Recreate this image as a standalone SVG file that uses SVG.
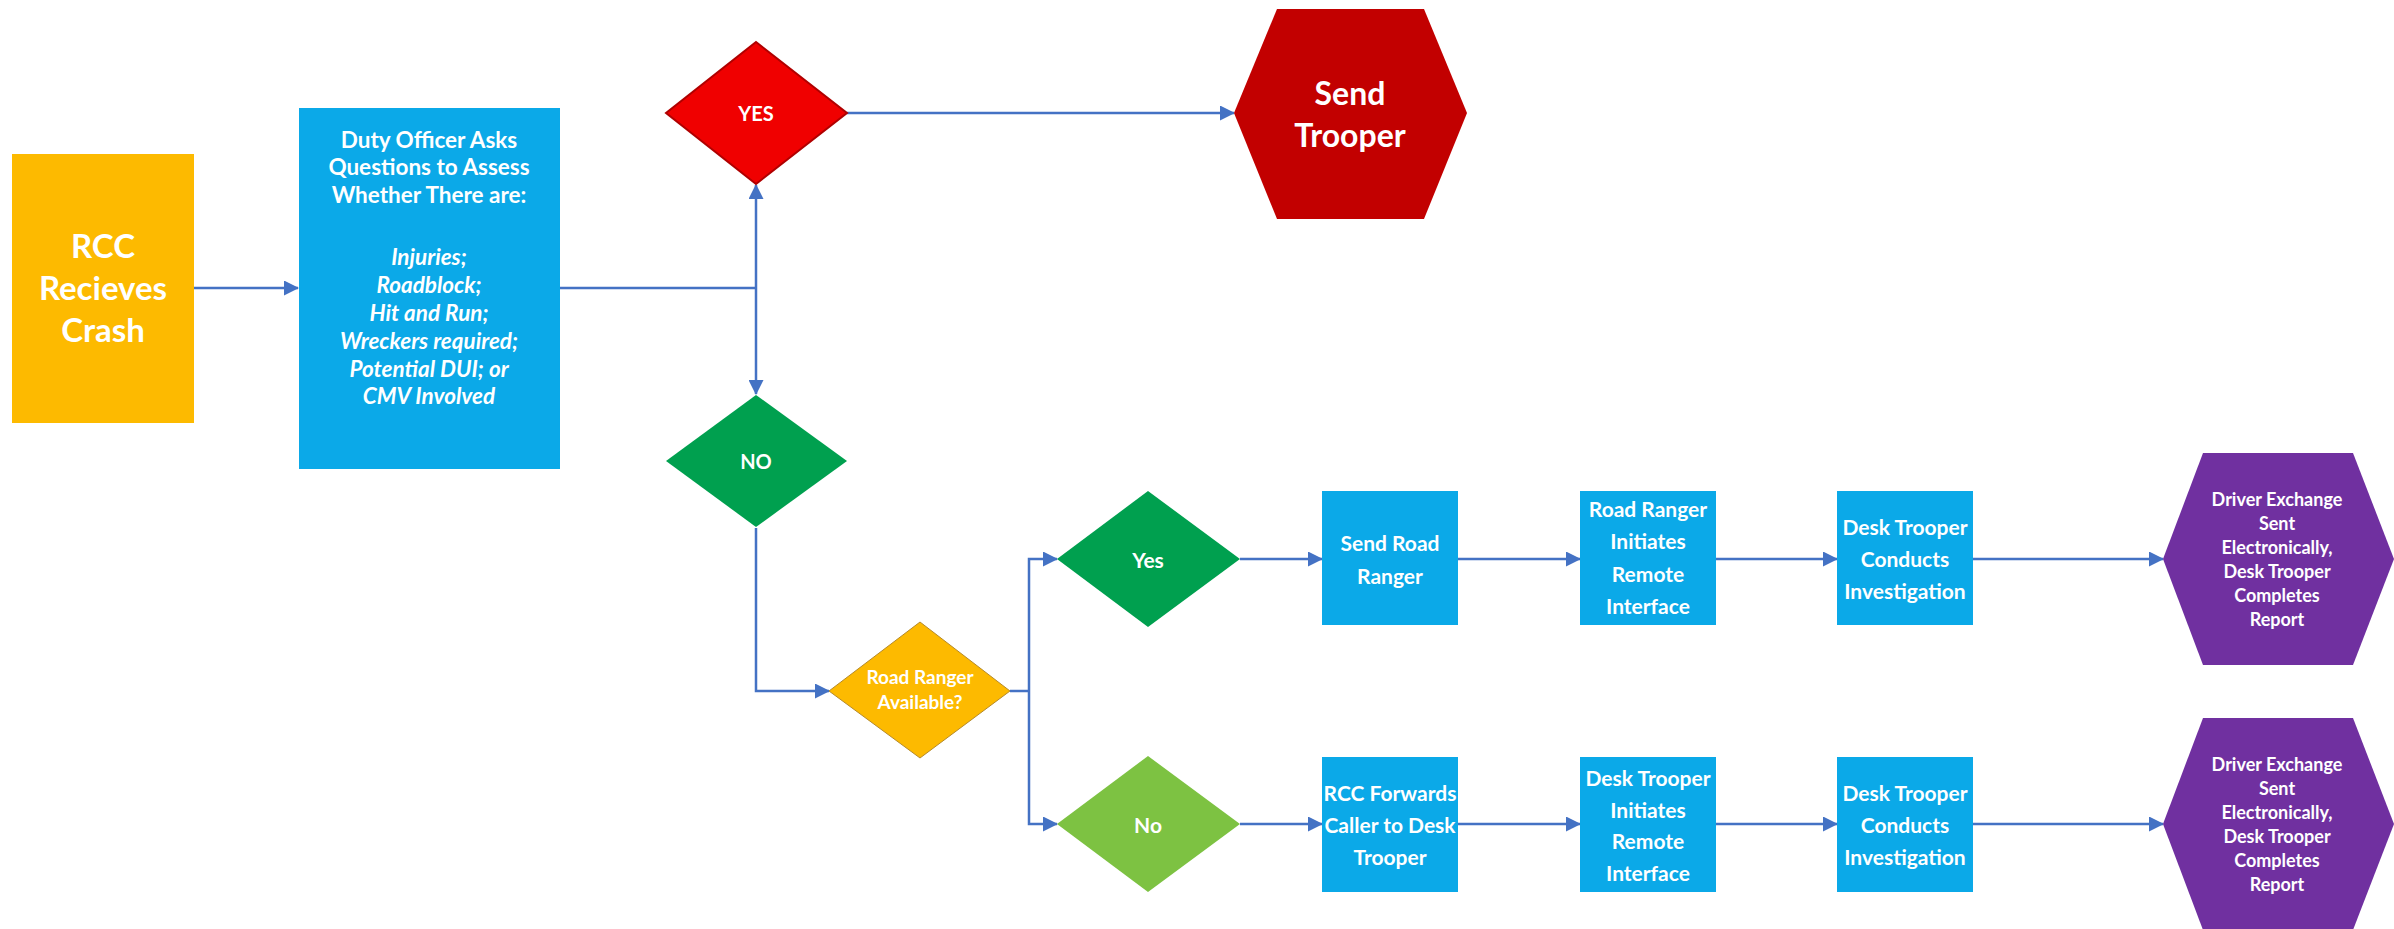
<svg xmlns="http://www.w3.org/2000/svg" width="2394" height="929" viewBox="0 0 2394 929">
  <defs>
    <marker id="arrow" markerWidth="15" markerHeight="15" refX="14" refY="7.5" orient="auto" markerUnits="userSpaceOnUse" viewBox="0 0 15 15">
      <path d="M0,0 L15,7.5 L0,15 Z" fill="#4472C4"/>
    </marker>
    <style>
      .lbl { font-family: Lato, "Open Sans", "Liberation Sans", sans-serif; font-weight: 700; fill: #ffffff; text-anchor: middle; dominant-baseline: central; }
      .it { font-style: italic; }
      .conn { fill: none; stroke: #4472C4; stroke-width: 2.5; }
      .arr { marker-end: url(#arrow); }
      .blue { fill: #0BA9E8; }
    </style>
  </defs>
  <rect width="2394" height="929" fill="#ffffff"/>

  <!-- connectors -->
  <g id="connectors">
    <path class="conn arr" d="M194,288 H298"/>
    <path class="conn" d="M560,288 H756"/>
    <path class="conn arr" d="M756,288 V185"/>
    <path class="conn arr" d="M756,288 V394"/>
    <path class="conn arr" d="M847,113 H1234"/>
    <path class="conn arr" d="M756,528 V691 H829"/>
    <path class="conn" d="M1010,691 H1029"/>
    <path class="conn arr" d="M1029,691 V559 H1057"/>
    <path class="conn arr" d="M1029,691 V824 H1057"/>
    <path class="conn arr" d="M1240,559 H1322"/>
    <path class="conn arr" d="M1458,559 H1580"/>
    <path class="conn arr" d="M1716,559 H1837"/>
    <path class="conn arr" d="M1973,559 H2163"/>
    <path class="conn arr" d="M1240,824 H1322"/>
    <path class="conn arr" d="M1458,824 H1580"/>
    <path class="conn arr" d="M1716,824 H1837"/>
    <path class="conn arr" d="M1973,824 H2163"/>
  </g>

  <!-- start -->
  <g id="rcc-receives-crash">
    <rect x="12" y="154" width="182" height="269" fill="#FDBA00"/>
    <text class="lbl" x="103" y="245" font-size="33">RCC</text>
    <text class="lbl" x="103" y="287" font-size="33">Recieves</text>
    <text class="lbl" x="103" y="329" font-size="33">Crash</text>
  </g>

  <g id="duty-officer">
    <rect class="blue" x="299" y="108" width="261" height="361"/>
    <text class="lbl" x="429" y="139" font-size="22.5">Duty Officer Asks</text>
    <text class="lbl" x="429" y="166" font-size="22.5">Questions to Assess</text>
    <text class="lbl" x="429" y="194" font-size="22.5">Whether There are:</text>
    <text class="lbl it" x="429" y="256" font-size="22.5">Injuries;</text>
    <text class="lbl it" x="429" y="284" font-size="22.5">Roadblock;</text>
    <text class="lbl it" x="429" y="312" font-size="22.5">Hit and Run;</text>
    <text class="lbl it" x="429" y="340" font-size="22.5">Wreckers required;</text>
    <text class="lbl it" x="429" y="368" font-size="22.5">Potential DUI; or</text>
    <text class="lbl it" x="429" y="395" font-size="22.5">CMV Involved</text>
  </g>

  <g id="yes-decision">
    <polygon points="756,42 847,113 756,184 666,113" fill="#F00000" stroke="#B00000" stroke-width="2"/>
    <text class="lbl" x="756" y="113" font-size="20">YES</text>
  </g>

  <g id="send-trooper">
    <polygon points="1234,113 1277,9 1424,9 1467,113 1424,219 1277,219" fill="#C20000"/>
    <text class="lbl" x="1350" y="92" font-size="32">Send</text>
    <text class="lbl" x="1350" y="134" font-size="32">Trooper</text>
  </g>

  <g id="no-decision">
    <polygon points="756,395 847,461 756,527 666,461" fill="#00A04F"/>
    <text class="lbl" x="756" y="461" font-size="20">NO</text>
  </g>

  <g id="road-ranger-available">
    <polygon points="920,622 1010,691 920,758 829,691" fill="#FDBA00" stroke="#B58A2A" stroke-width="1"/>
    <text class="lbl" x="920" y="676" font-size="19">Road Ranger</text>
    <text class="lbl" x="920" y="701" font-size="19">Available?</text>
  </g>

  <!-- road ranger available branch -->
  <g id="rr-yes">
    <polygon points="1148,491 1240,559 1148,627 1057,559" fill="#00A04F"/>
    <text class="lbl" x="1148" y="559" font-size="21">Yes</text>
  </g>

  <g id="send-road-ranger">
    <rect class="blue" x="1322" y="491" width="136" height="134"/>
    <text class="lbl" x="1390" y="542" font-size="21">Send Road</text>
    <text class="lbl" x="1390" y="575" font-size="21">Ranger</text>
  </g>

  <g id="road-ranger-initiates">
    <rect class="blue" x="1580" y="491" width="136" height="134"/>
    <text class="lbl" x="1648" y="508" font-size="21">Road Ranger</text>
    <text class="lbl" x="1648" y="540" font-size="21">Initiates</text>
    <text class="lbl" x="1648" y="573" font-size="21">Remote</text>
    <text class="lbl" x="1648" y="605" font-size="21">Interface</text>
  </g>

  <g id="desk-trooper-conducts-1">
    <rect class="blue" x="1837" y="491" width="136" height="134"/>
    <text class="lbl" x="1905" y="526" font-size="21">Desk Trooper</text>
    <text class="lbl" x="1905" y="558" font-size="21">Conducts</text>
    <text class="lbl" x="1905" y="590" font-size="21">Investigation</text>
  </g>

  <g id="report-1">
    <polygon points="2163,559 2203,453 2353,453 2394,559 2353,665 2203,665" fill="#7030A0"/>
    <text class="lbl" x="2277" y="499" font-size="18">Driver Exchange</text>
    <text class="lbl" x="2277" y="523" font-size="18">Sent</text>
    <text class="lbl" x="2277" y="547" font-size="18">Electronically,</text>
    <text class="lbl" x="2277" y="571" font-size="18">Desk Trooper</text>
    <text class="lbl" x="2277" y="595" font-size="18">Completes</text>
    <text class="lbl" x="2277" y="619" font-size="18">Report</text>
  </g>

  <!-- road ranger unavailable branch -->
  <g id="rr-no">
    <polygon points="1148,756 1240,824 1148,892 1057,824" fill="#7DC242"/>
    <text class="lbl" x="1148" y="824" font-size="21">No</text>
  </g>

  <g id="rcc-forwards-caller">
    <rect class="blue" x="1322" y="757" width="136" height="135"/>
    <text class="lbl" x="1390" y="792" font-size="21">RCC Forwards</text>
    <text class="lbl" x="1390" y="824" font-size="21">Caller to Desk</text>
    <text class="lbl" x="1390" y="856" font-size="21">Trooper</text>
  </g>

  <g id="desk-trooper-initiates">
    <rect class="blue" x="1580" y="757" width="136" height="135"/>
    <text class="lbl" x="1648" y="777" font-size="21">Desk Trooper</text>
    <text class="lbl" x="1648" y="809" font-size="21">Initiates</text>
    <text class="lbl" x="1648" y="840" font-size="21">Remote</text>
    <text class="lbl" x="1648" y="872" font-size="21">Interface</text>
  </g>

  <g id="desk-trooper-conducts-2">
    <rect class="blue" x="1837" y="757" width="136" height="135"/>
    <text class="lbl" x="1905" y="792" font-size="21">Desk Trooper</text>
    <text class="lbl" x="1905" y="824" font-size="21">Conducts</text>
    <text class="lbl" x="1905" y="856" font-size="21">Investigation</text>
  </g>

  <g id="report-2">
    <polygon points="2163,824 2203,718 2353,718 2394,824 2353,930 2203,930" fill="#7030A0"/>
    <text class="lbl" x="2277" y="764" font-size="18">Driver Exchange</text>
    <text class="lbl" x="2277" y="788" font-size="18">Sent</text>
    <text class="lbl" x="2277" y="812" font-size="18">Electronically,</text>
    <text class="lbl" x="2277" y="836" font-size="18">Desk Trooper</text>
    <text class="lbl" x="2277" y="860" font-size="18">Completes</text>
    <text class="lbl" x="2277" y="884" font-size="18">Report</text>
  </g>
</svg>
